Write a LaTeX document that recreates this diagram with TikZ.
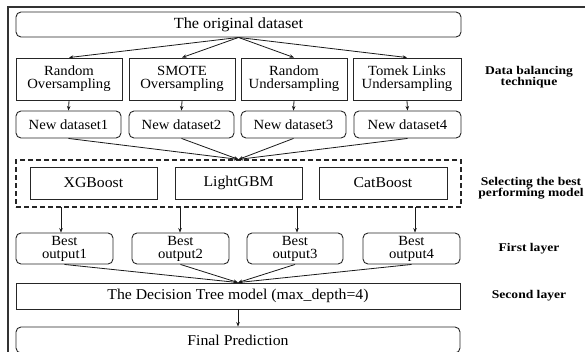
\documentclass[tikz,border=0pt]{standalone}
\usepackage{fontspec}
\setmainfont{Liberation Serif}[FakeStretch=1.05]
\newfontfamily\lblfont{Liberation Serif}[FakeStretch=1.15]
\usetikzlibrary{arrows.meta}
\begin{document}
\begin{tikzpicture}[x=1pt,y=-1pt,
  base/.style={draw=black!85, line width=0.9pt, inner sep=0pt, align=center,
    font=\fontsize{14}{13}\selectfont},
  sbox/.style={base},
  rbox/.style={base, rounded corners=5pt},
  dbox/.style={draw=black!85, line width=1.2pt, dash pattern=on 5pt off 3pt, inner sep=0pt},
  lbl/.style={align=center, font=\lblfont\bfseries\fontsize{11.8}{11.5}\selectfont},
  arr/.style={draw=black!90, line width=0.8pt, -{Stealth[length=4.5pt,width=3.5pt]}},
  frame/.style={draw=black!80, line width=1.2pt}]
\useasboundingbox (0,0) rectangle (585,351);
% outer frame
\coordinate (fa) at (8,360);
\coordinate (fb) at (8,7);
\coordinate (fc) at (590,7);
\draw[frame] (fa) -- (fb) -- (fc);
% top
\node[rbox, minimum width=445pt, minimum height=25pt, font=\fontsize{15.5}{15}\selectfont] (orig) at (238.5,24.5) {The original dataset};
% techniques
\node[sbox, minimum width=106pt, minimum height=42pt] (t1) at (69,79) {Random\\Oversampling};
\node[sbox, minimum width=106pt, minimum height=42pt] (t2) at (182,79) {SMOTE\\Oversampling};
\node[sbox, minimum width=106pt, minimum height=42pt] (t3) at (294,79) {Random\\Undersampling};
\node[sbox, minimum width=108pt, minimum height=42pt] (t4) at (407,79) {Tomek Links\\Undersampling};
% new datasets
\node[rbox, minimum width=105pt, minimum height=27pt] (n1) at (68.5,124.5) {New dataset1};
\node[rbox, minimum width=105pt, minimum height=27pt] (n2) at (181.5,124.5) {New dataset2};
\node[rbox, minimum width=105pt, minimum height=27pt] (n3) at (293.5,124.5) {New dataset3};
\node[rbox, minimum width=107pt, minimum height=27pt] (n4) at (407.5,124.5) {New dataset4};
% models
\node[dbox, minimum width=445pt, minimum height=47pt] (dash) at (238.5,183.5) {};
\node[sbox, minimum width=127pt, minimum height=32pt, font=\fontsize{15}{15}\selectfont] (m1) at (93.5,183) {XGBoost};
\node[sbox, minimum width=127pt, minimum height=32pt, font=\fontsize{15}{15}\selectfont] (m2) at (238.5,183) {LightGBM};
\node[sbox, minimum width=128pt, minimum height=32pt, font=\fontsize{15}{15}\selectfont] (m3) at (383,183) {CatBoost};
% best outputs
\node[rbox, minimum width=97pt, minimum height=31pt] (b1) at (64.5,248.5) {Best\\output1};
\node[rbox, minimum width=97pt, minimum height=31pt] (b2) at (180.5,248.5) {Best\\output2};
\node[rbox, minimum width=96pt, minimum height=31pt] (b3) at (295,248.5) {Best\\output3};
\node[rbox, minimum width=97pt, minimum height=31pt] (b4) at (411.5,248.5) {Best\\output4};
% decision tree
\node[sbox, minimum width=444pt, minimum height=26pt, font=\fontsize{15}{15}\selectfont] (dt) at (238,296) {The Decision Tree model (max\_depth=4)};
% final prediction
\node[rbox, minimum width=444pt, minimum height=26pt, font=\fontsize{15}{15}\selectfont] (fp) at (238,340) {Final Prediction};
% labels
\node[lbl] (l1) at (529,77) {Data balancing\\technique};
\node[lbl] (l2) at (531,188) {Selecting the best\\performing model};
\node[lbl] (l3) at (529,249) {First layer};
\node[lbl] (l4) at (529,296) {Second layer};
% arrows
\foreach \i in {1,2,3,4} {
  \draw[arr] (orig.south) -- (t\i.north);
  \draw[arr] (t\i.south) -- (n\i.north);
  \draw[arr] (n\i.south) -- (dash.north);
  \draw[arr] (b\i.south) -- (dt.north);
}
\coordinate (d1) at (61,207);
\coordinate (d2) at (180,207);
\coordinate (d3) at (297,207);
\coordinate (d4) at (415,207);
\foreach \i in {1,2,3,4} {
  \draw[arr] (d\i) -- (d\i |- b\i.north);
}
\draw[arr] (dt.south) -- (fp.north);
\end{tikzpicture}
\end{document}
